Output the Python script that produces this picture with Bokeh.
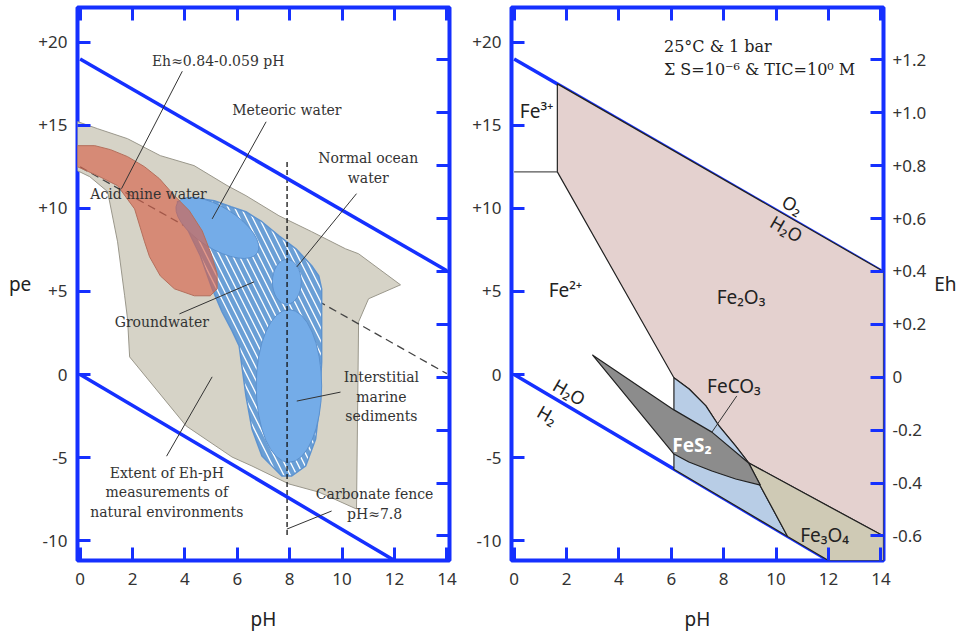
from bokeh.plotting import figure
from bokeh.layouts import row
from bokeh.models import Range1d, LinearAxis, FixedTicker, CustomJSTickFormatter
from bokeh.core.properties import value
from bokeh.embed import file_html
from bokeh.resources import INLINE

# ---------------- data ----------------
ph_ticks = [0, 2, 4, 6, 8, 10, 12, 14]
pe_ticks = [-10, -5, 0, 5, 10, 15, 20]
eh_ticks = [-0.6, -0.4, -0.2, 0.0, 0.2, 0.4, 0.6, 0.8, 1.0, 1.2]

# water stability limits
o2_ph = [0, 14]
o2_pe = [19.0, 6.25]
h2_ph = [0, 12]
h2_pe = [0.0, -11.2]

# left panel: extent of natural Eh-pH measurements
nat_ph = [-0.1, 0.67, 1.81, 3.06, 4.35, 5.61, 6.33, 7.59, 8.84, 10.13, 10.63, 12.23, 11.01,
          10.63, 10.55, 9.11, 7.97, 6.56, 5.80, 4.05, 1.89, 1.81, 1.70, 1.43, 1.05, 0.37, -0.1]
nat_pe = [15.23, 14.80, 14.20, 13.18, 12.58, 11.38, 10.77, 9.56, 8.60, 7.57, 7.27, 5.40, 4.56,
          3.17, -8.10, -7.08, -6.59, -5.51, -4.97, -3.10, 1.06, 3.35, 4.74, 7.99, 11.01, 11.91, 12.27]

# acid mine water
amw_ph = [-0.1, 0.56, 1.16, 1.81, 2.46, 3.03, 3.60, 4.17, 4.66, 5.00, 5.23, 5.23, 4.97, 4.36,
          3.60, 3.06, 2.65, 2.46, 2.08, 1.43, 0.67, -0.1]
amw_pe = [13.78, 13.78, 13.54, 13.12, 12.51, 11.79, 10.77, 9.86, 8.65, 7.27, 6.06, 5.16, 4.74, 4.74,
          5.16, 5.94, 7.09, 7.99, 9.97, 11.37, 11.97, 12.51]

# groundwater
gw_ph = [3.71, 4.36, 5.12, 5.76, 6.33, 6.94, 7.59, 8.24, 8.84, 9.11, 9.22, 9.22, 9.22, 9.11, 8.99,
         8.61, 8.08, 7.70, 6.94, 6.56, 6.33, 6.07, 5.80, 5.42, 5.04, 4.59, 4.09]
gw_pe = [10.40, 10.64, 10.46, 10.10, 9.80, 9.20, 8.35, 7.57, 6.55, 5.94, 5.16, 3.77, 0.76, -2.25, -3.88,
         -5.51, -6.11, -6.11, -4.91, -3.28, -1.29, 1.72, 2.63, 3.77, 5.16, 7.15, 8.78]

# ellipses: meteoric water, normal ocean water, interstitial marine sediments
ell_ph = [5.24, 7.89, 7.97]
ell_pe = [8.83, 5.58, -0.69]
ell_w = [3.6, 1.1, 2.5]
ell_h = [2.5, 2.7, 9.2]
ell_ang = [-32, 0, 0]

# dashed Eh = 0.84 - 0.059 pH line and carbonate fence
eh_line_ph = [0, 14]
eh_line_pe = [12.5, 0.05]
fence_ph = [7.9, 7.9]
fence_pe = [12.8, -9.73]

# leader lines (left)
ld_x0 = [3.90, 7.10, 10.55, 3.79, 9.94, 3.30, 9.60]
ld_y0 = [18.26, 15.22, 10.89, 3.65, -1.06, -4.92, -8.22]
ld_x1 = [1.58, 5.04, 8.27, 6.64, 8.27, 5.04, 7.89]
ld_y1 = [11.19, 9.37, 6.48, 5.58, -1.60, -0.14, -9.31]

lab_text = ["Eh\u22480.84-0.059 pH", "Meteoric water", "Normal ocean", "water", "Acid mine water",
            "Groundwater", "Interstitial", "marine", "sediments", "Extent of Eh-pH",
            "measurements of", "natural environments", "Carbonate fence", "pH\u22487.8"]
lab_ph = [5.27, 7.89, 11.0, 11.0, 2.61, 3.12, 11.5, 11.5, 11.5, 3.31, 3.31, 3.31, 11.24, 11.24]
lab_pe = [18.90, 15.95, 13.06, 11.85, 10.89, 3.15, -0.14, -1.34, -2.51, -5.92, -7.06, -8.27, -7.20, -8.40]

# right panel: Fe-S-C-O-H system
fe2o3_ph = [1.65, 14.1, 14.1, 8.96, 8.46, 7.82, 7.32, 6.68, 6.1, 1.65]
fe2o3_pe = [17.5, 6.2, -9.73, -5.33, -4.31, -3.10, -1.89, -0.87, -0.2, 12.2]
feco3_ph = [6.1, 6.68, 7.32, 7.82, 8.46, 8.96, 9.40, 10.44, 6.1]
feco3_pe = [-0.2, -0.87, -1.89, -3.10, -4.31, -5.33, -6.71, -9.75, -5.70]
fe3o4_ph = [8.96, 14.1, 14.1, 12.0, 10.44, 9.40]
fe3o4_pe = [-5.33, -9.73, -11.2, -11.2, -9.75, -6.71]
fes2_ph = [2.99, 6.10, 7.55, 8.95, 9.40, 8.46, 7.55, 6.67, 6.10]
fes2_pe = [1.18, -2.13, -3.47, -5.33, -6.66, -6.29, -5.81, -5.27, -4.79]
fe3_ph = [0, 1.65]
fe3_pe = [12.2, 12.2]

sp_text = ["Fe\u00b3\u207a", "Fe\u00b2\u207a", "Fe\u2082O\u2083", "FeCO\u2083", "Fe\u2083O\u2084"]
sp_ph = [0.86, 1.96, 8.66, 8.39, 11.85]
sp_pe = [15.89, 5.10, 4.68, -0.69, -9.67]

rot_text = ["O\u2082", "H\u2082O", "H\u2082O", "H\u2082"]
rot_ph = [10.63, 10.40, 2.11, 1.27]
rot_pe = [10.22, 8.78, -1.05, -2.43]

hdr_text = ["25\u00b0C & 1 bar", "\u03a3 S=10\u207b\u2076 & TIC=10\u2070 M"]
hdr_ph = [5.72, 5.72]
hdr_pe = [19.75, 18.36]

# ---------------- style ----------------
BLUE = "#1530ff"
SERIF = "DejaVu Serif"
SANS = "Noto Sans"
XR = (-0.1, 14.1)
YR = (-11.2, 22.1)
EHR = (-0.693, 1.398)

pe_fmt = "return tick > 0 ? '+' + tick : '' + tick;"
eh_fmt = "if (Math.abs(tick) < 1e-9) return '0'; return (tick > 0 ? '+' : '') + tick.toFixed(1);"


def style_axis(ax, labels=True):
    ax.axis_line_color = None
    ax.major_tick_in = 13
    ax.major_tick_out = 0
    ax.major_tick_line_color = BLUE
    ax.major_tick_line_width = 3
    ax.minor_tick_line_color = None
    ax.major_label_text_font = SANS
    ax.major_label_text_font_size = "17px"
    ax.major_label_text_color = "#333333"
    ax.axis_label_text_font = SANS
    ax.axis_label_text_font_size = "19px"
    ax.axis_label_text_font_style = "normal"
    ax.axis_label_text_color = "#222222"
    if not labels:
        ax.formatter = CustomJSTickFormatter(code="return '';")
        ax.major_label_text_font_size = "0px"


def make_fig(ml, mr):
    p = figure(frame_width=372, frame_height=553, x_range=Range1d(*XR), y_range=Range1d(*YR),
               output_backend="svg", toolbar_location=None,
               min_border_left=ml, min_border_right=mr, min_border_top=7, min_border_bottom=66)
    p.grid.visible = False
    p.outline_line_color = BLUE
    p.outline_line_width = 4
    p.outline_line_alpha = 1
    p.extra_y_ranges = {"eh": Range1d(*EHR)}
    # bottom
    xa = p.xaxis[0]
    xa.ticker = FixedTicker(ticks=ph_ticks)
    style_axis(xa)
    xa.major_label_standoff = 12
    xa.axis_label = "pH"
    xa.axis_label_standoff = 18
    # left
    ya = p.yaxis[0]
    ya.ticker = FixedTicker(ticks=pe_ticks)
    ya.formatter = CustomJSTickFormatter(code=pe_fmt)
    style_axis(ya)
    ya.major_label_standoff = 10
    # top
    top = LinearAxis(ticker=FixedTicker(ticks=ph_ticks))
    style_axis(top, labels=False)
    p.add_layout(top, "above")
    return p


# ---------------- left panel ----------------
p1 = make_fig(77, 20)
p1.yaxis[0].axis_label = "pe"
p1.yaxis[0].axis_label_orientation = "horizontal"
p1.yaxis[0].axis_label_standoff = 4
r1 = LinearAxis(y_range_name="eh", ticker=FixedTicker(ticks=eh_ticks))
style_axis(r1, labels=False)
p1.add_layout(r1, "right")

p1.patch(nat_ph, nat_pe, fill_color="#d6d3c7", line_color="#9a978b", line_width=1)
p1.line(eh_line_ph, eh_line_pe, line_color="#444444", line_width=1.3, line_dash="8 5")
p1.patch(gw_ph, gw_pe, fill_color="white", hatch_pattern="\\", hatch_color="#6a9fd6",
         hatch_weight=4.5, hatch_scale=13, line_color="#5d93d0", line_width=1.5)
p1.ellipse(x=ell_ph, y=ell_pe, width=ell_w, height=ell_h, angle=ell_ang, angle_units="deg",
           fill_color="#74ace8", line_color="#5b91cf", line_width=1)
p1.patch(amw_ph, amw_pe, fill_color="#d6634b", fill_alpha=0.65, line_color="#b46f5c", line_width=1)
p1.line(fence_ph, fence_pe, line_color="#111111", line_width=1.3, line_dash="5 3")
p1.line(o2_ph, o2_pe, line_color=BLUE, line_width=3.5)
p1.line(h2_ph, h2_pe, line_color=BLUE, line_width=3.5)
p1.segment(ld_x0, ld_y0, ld_x1, ld_y1, line_color="#333333", line_width=1)
p1.text(lab_ph, lab_pe, text=lab_text, text_font=value(SERIF), text_font_size="14px",
        text_align="center", text_baseline="middle", text_color="#333333")

# ---------------- right panel ----------------
p2 = make_fig(40, 70)
r2 = LinearAxis(y_range_name="eh", ticker=FixedTicker(ticks=eh_ticks),
                formatter=CustomJSTickFormatter(code=eh_fmt))
style_axis(r2)
r2.major_label_standoff = 9
r2.axis_label = "Eh"
r2.axis_label_orientation = "horizontal"
r2.axis_label_standoff = 5
p2.add_layout(r2, "right")

p2.line(o2_ph, o2_pe, line_color=BLUE, line_width=3.5)
p2.line(h2_ph, h2_pe, line_color=BLUE, line_width=3.5)
p2.patch(fe2o3_ph, fe2o3_pe, fill_color="#e4d1cf", line_color="#222222", line_width=1.2)
p2.patch(feco3_ph, feco3_pe, fill_color="#b8cde6", line_color="#222222", line_width=1.2)
p2.patch(fe3o4_ph, fe3o4_pe, fill_color="#cfcab5", line_color="#222222", line_width=1.2)
p2.patch(fes2_ph, fes2_pe, fill_color="#8c8c8c", line_color="#222222", line_width=1.2)
p2.line(fe3_ph, fe3_pe, line_color="#555555", line_width=1.2)
p2.segment([8.5], [-1.29], [7.55], [-3.47], line_color="#333333", line_width=1)

p2.text(sp_ph, sp_pe, text=sp_text, text_font=value(SANS), text_font_size="19px",
        text_align="center", text_baseline="middle", text_color="#222222")
p2.text([6.79], [-4.22], text=["FeS\u2082"], text_font=value(SANS), text_font_size="19px",
        text_font_style="bold", text_align="center", text_baseline="middle", text_color="white")
p2.text(rot_ph, rot_pe, text=rot_text, text_font=value(SANS), text_font_size="18px", angle=-30,
        angle_units="deg", text_align="center", text_baseline="middle", text_color="#222222")
p2.text(hdr_ph, hdr_pe, text=hdr_text, text_font=value(SERIF), text_font_size="16px",
        text_align="left", text_baseline="middle", text_color="#222222")

layout = row(p1, p2)
open("out.html", "w").write(file_html(layout, INLINE))
